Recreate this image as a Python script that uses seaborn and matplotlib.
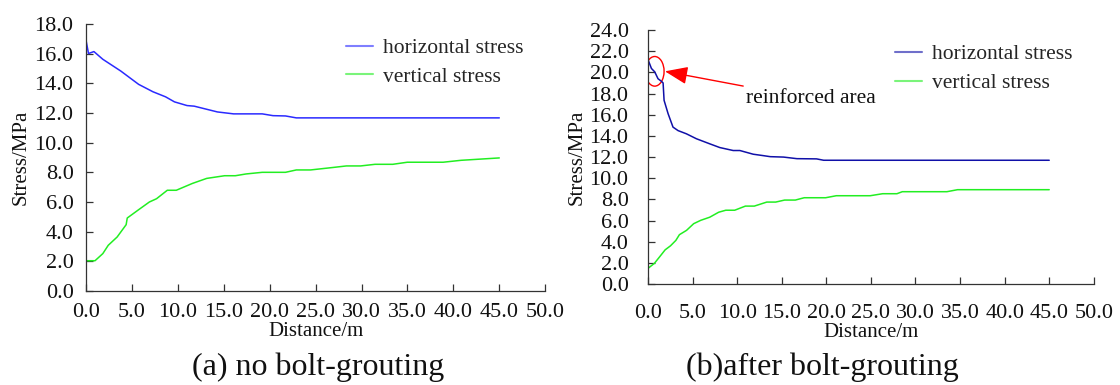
import numpy as np
import pandas as pd
import matplotlib
matplotlib.use("Agg")
import matplotlib.pyplot as plt
from matplotlib.patches import Ellipse
import seaborn as sns

# ---- data ----
a_h_x = [0, 0.27, 0.86, 1.83, 3.78, 5.73, 7.29, 8.66, 9.63, 11.0, 11.78, 14.31, 16.07,
         19.19, 20.36, 21.72, 22.9, 45.0]
a_h_y = [16.91, 16.01, 16.14, 15.62, 14.83, 13.93, 13.43, 13.09, 12.75, 12.50, 12.46,
         12.07, 11.94, 11.94, 11.82, 11.80, 11.67, 11.67]
a_v_x = [0, 0.98, 1.83, 2.42, 3.39, 4.37, 4.49, 5.73, 6.9, 7.68, 8.85, 9.83, 11.58, 13.14,
         15.09, 16.26, 17.43, 19.19, 21.72, 22.9, 24.45, 26.8, 28.35, 29.9, 31.47, 33.4,
         34.98, 38.88, 40.84, 45.0]
a_v_y = [2.04, 2.04, 2.52, 3.08, 3.64, 4.47, 4.92, 5.48, 6.0, 6.22, 6.79, 6.79, 7.25, 7.59,
         7.77, 7.77, 7.89, 8.0, 8.0, 8.16, 8.16, 8.32, 8.43, 8.43, 8.54, 8.54,
         8.68, 8.68, 8.81, 8.97]

b_h_x = [0, 0.38, 0.75, 1.12, 1.5, 1.69, 1.8, 2.25, 2.8, 3.37, 4.3, 5.43, 6.93, 8.05, 9.55,
         10.3, 11.8, 12.9, 13.7, 15.2, 16.7, 18.9, 19.7, 45.0]
b_h_y = [21.2, 20.37, 20.05, 19.4, 19.16, 19.0, 17.36, 16.1, 14.83, 14.5, 14.2, 13.73, 13.25,
         12.9, 12.62, 12.62, 12.27, 12.14, 12.04, 12.0, 11.85, 11.83, 11.7, 11.7]
b_v_x = [0, 0.72, 1.32, 1.92, 2.52, 3.12, 3.52, 4.32, 5.12, 5.92, 6.92, 7.92, 8.72, 9.72,
         10.92, 11.92, 13.32, 14.32, 15.32, 16.52, 17.52, 19.92, 21.12, 24.92, 26.32, 27.92,
         28.52, 33.52, 34.72, 45.0]
b_v_y = [1.49, 1.97, 2.6, 3.24, 3.62, 4.13, 4.67, 5.08, 5.71, 6.03, 6.32, 6.79, 6.98, 6.98,
         7.37, 7.37, 7.75, 7.75, 7.94, 7.94, 8.16, 8.16, 8.35, 8.35, 8.54, 8.54,
         8.73, 8.73, 8.92, 8.92]

series_names = ["horizontal stress", "vertical stress"]
x_ticks = [0, 5, 10, 15, 20, 25, 30, 35, 40, 45, 50]
a_y_ticks = list(range(0, 19, 2))
b_y_ticks = list(range(0, 25, 2))
titles = ["(a) no bolt-grouting", "(b)after bolt-grouting"]
annot_text = "reinforced area"

sns.set_theme(style="ticks")
plt.rcParams["font.family"] = ["Liberation Serif", "DejaVu Serif"]
plt.rcParams["xtick.direction"] = "in"
plt.rcParams["ytick.direction"] = "in"

fig = plt.figure(figsize=(11.2, 3.85), dpi=100)
ax1 = fig.add_axes([0.0768, 0.2442, 0.410, 0.6935])
ax2 = fig.add_axes([0.5786, 0.262, 0.398, 0.660])

def df_of(hx, hy, vx, vy):
    return pd.concat([
        pd.DataFrame({"x": hx, "y": hy, "s": series_names[0]}),
        pd.DataFrame({"x": vx, "y": vy, "s": series_names[1]}),
    ], ignore_index=True)

pal1 = {series_names[0]: "#2a2aff", series_names[1]: "#22ee22"}
pal2 = {series_names[0]: "#1010a8", series_names[1]: "#22ee22"}

sns.lineplot(data=df_of(a_h_x, a_h_y, a_v_x, a_v_y), x="x", y="y", hue="s",
             palette=pal1, estimator=None, sort=False, lw=1.1, ax=ax1)
sns.lineplot(data=df_of(b_h_x, b_h_y, b_v_x, b_v_y), x="x", y="y", hue="s",
             palette=pal2, estimator=None, sort=False, lw=1.1, ax=ax2)

for ax, yt, ymax, xpad, ypad, ylp in [(ax1, a_y_ticks, 18, 9, 9, 3),
                                      (ax2, b_y_ticks, 24, 14, 14, 2)]:
    ax.set_xlim(0, 50)
    ax.set_ylim(0, ymax)
    ax.set_xticks(x_ticks)
    ax.set_xticklabels([f"{v:.1f}" for v in x_ticks])
    ax.set_yticks(yt)
    ax.set_yticklabels([f"{v:.1f}" for v in yt])
    ax.tick_params(axis="both", labelsize=16, length=5, width=0.9, color="#333333",
                   labelcolor="#111111")
    ax.tick_params(axis="x", pad=xpad)
    ax.tick_params(axis="y", pad=ypad)
    for sp in ["top", "right"]:
        ax.spines[sp].set_visible(False)
    for sp in ["left", "bottom"]:
        ax.spines[sp].set_color("#333333")
        ax.spines[sp].set_linewidth(0.9)
    ax.set_xlabel("Distance/m", fontsize=15, labelpad=0, color="#111111")
    ax.set_ylabel("Stress/MPa", fontsize=15, labelpad=ylp, color="#111111")
    ax.patch.set_alpha(0)
    leg = ax.legend(loc="upper right", bbox_to_anchor=(0.995, 1.02), frameon=False,
                    fontsize=15.5, handlelength=1.25, handletextpad=0.45, labelspacing=0.4)
    for h in leg.get_lines():
        h.set_alpha(0.6)
        h.set_linewidth(1.5)

# reinforced-area annotation
ax2.add_patch(Ellipse((0.75, 20.1), 2.1, 2.8, fill=False, edgecolor="red", lw=1.0))
ax2.annotate(annot_text, xy=(1.9, 20.1), xytext=(11.0, 17.5), fontsize=15.5,
             va="center", ha="left", color="#111111",
             arrowprops=dict(arrowstyle="-|>,head_length=0.9,head_width=0.35",
                             color="red", lw=1.0, shrinkA=0, shrinkB=0))

fig.text(0.284, 0.026, titles[0], fontsize=23, ha="center", va="baseline", color="#111111")
fig.text(0.734, 0.026, titles[1], fontsize=23, ha="center", va="baseline", color="#111111")

fig.savefig("out.png", dpi=100)
